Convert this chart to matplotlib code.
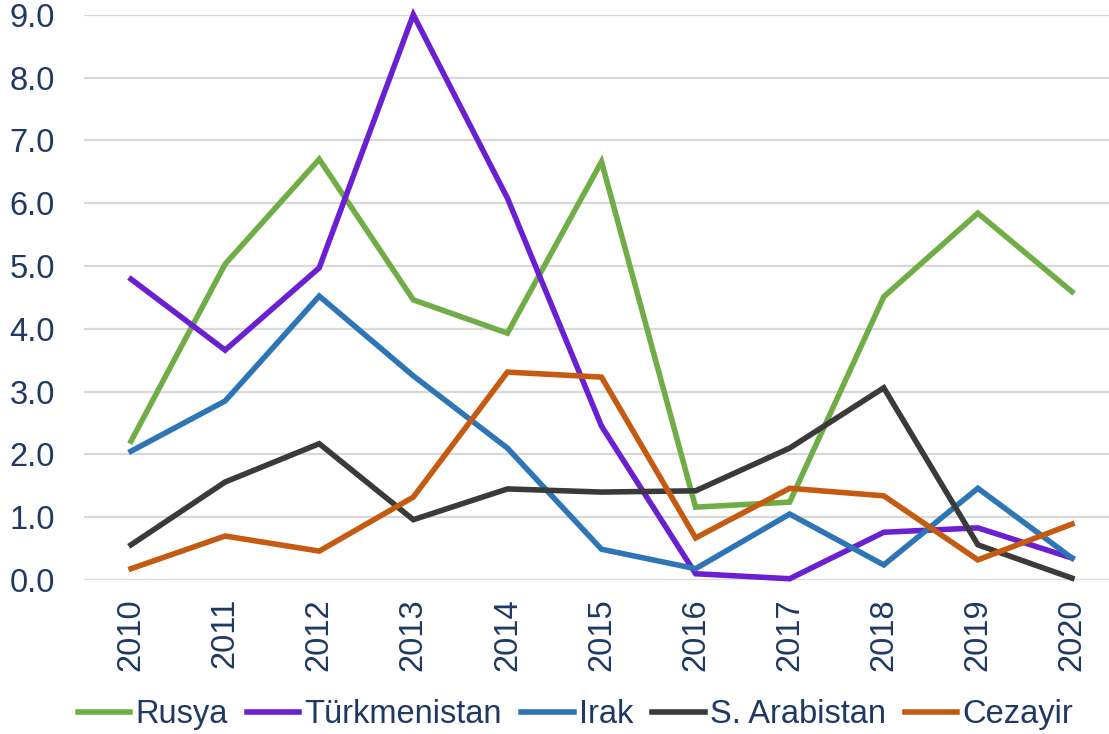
import matplotlib.pyplot as plt

plt.rcParams['font.family'] = ['Liberation Sans', 'DejaVu Sans']

years = ['2010', '2011', '2012', '2013', '2014', '2015', '2016', '2017', '2018', '2019', '2020']
rusya = [2.21, 5.03, 6.70, 4.46, 3.93, 6.66, 1.16, 1.24, 4.51, 5.84, 4.59]
turkmenistan = [4.79, 3.66, 4.97, 9.00, 6.08, 2.45, 0.10, 0.02, 0.76, 0.83, 0.35]
irak = [2.05, 2.85, 4.52, 3.25, 2.10, 0.49, 0.18, 1.05, 0.24, 1.46, 0.35]
s_arabistan = [0.56, 1.56, 2.17, 0.96, 1.45, 1.40, 1.42, 2.10, 3.06, 0.56, 0.03]
cezayir = [0.18, 0.70, 0.46, 1.32, 3.31, 3.23, 0.67, 1.46, 1.34, 0.32, 0.89]

series = [
    ('Rusya', rusya, '#70AD47'),
    ('Türkmenistan', turkmenistan, '#6A1FD1'),
    ('Irak', irak, '#2E75B6'),
    ('S. Arabistan', s_arabistan, '#3A3A3A'),
    ('Cezayir', cezayir, '#C55A11'),
]

text_color = '#1F3864'

fig = plt.figure(figsize=(11.09, 7.34), dpi=100)
ax = fig.add_axes([84 / 1109, 154 / 734, 1035 / 1109, 565.3 / 734])

x = range(len(years))
for name, vals, col in series:
    ax.plot(x, vals, color=col, lw=4, label=name, solid_joinstyle='miter', clip_on=False)

ax.set_xlim(-0.5, len(years) - 0.5)
ax.set_ylim(0, 9)
ax.set_yticks(range(0, 10))
ax.set_yticklabels([f'{v:.1f}' for v in range(0, 10)])
ax.set_xticks(list(x))
ax.set_xticklabels(years, rotation=90)
ax.tick_params(axis='both', length=0, labelsize=23.5, colors=text_color)
ax.tick_params(axis='y', pad=21)
ax.tick_params(axis='x', pad=13)
ax.grid(axis='y', color='#D9D9D9', lw=1.6)
ax.set_axisbelow(True)
for s in ax.spines.values():
    s.set_visible(False)

leg = fig.legend(loc='center', bbox_to_anchor=(0.519, 0.026), ncol=5, frameon=False,
                 fontsize=23.5, handlelength=1.6, handletextpad=0.15, columnspacing=0.6,
                 labelcolor=text_color)

fig.savefig('out.png', dpi=100)
